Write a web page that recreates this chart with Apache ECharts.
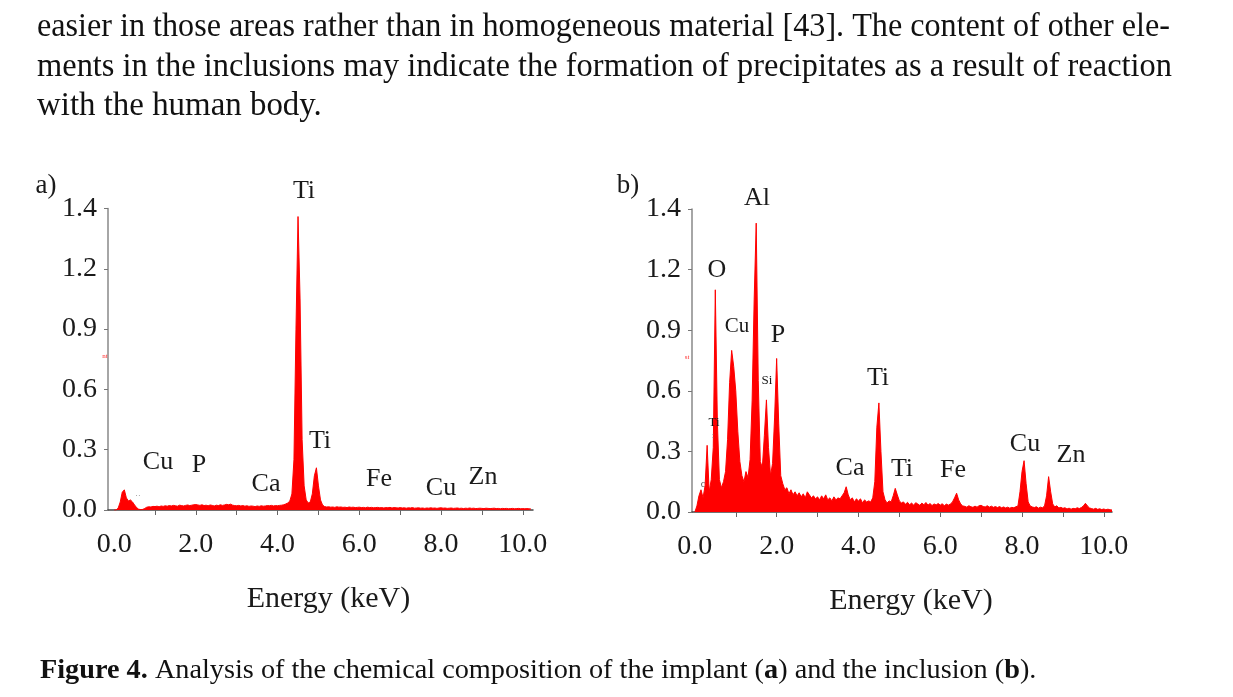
<!DOCTYPE html>
<html><head><meta charset="utf-8">
<script src="https://cdn.jsdelivr.net/npm/echarts@6/dist/echarts.min.js"></script>
<style>html,body{margin:0;padding:0;background:#fff;}#c{width:1233px;height:697px;}</style>
</head><body><div id="c"></div>
<script>
// ---- data ----
const energyStart = 0;      // keV, first channel
const energyStep = 0.05;    // keV per channel
// (a) implant spectrum, counts (arb. units) every 0.05 keV from 0.00 to 10.20
const implantCounts = [
  0, 0, 0.01, 0.04, 0.09, 0.1, 0.06, 0.045, 0.05, 0.04, 0.025, 0.012, 0.004, 0.002, 0.003, 0.008, 0.014, 0.016, 0.015, 0.018,
  0.017, 0.019, 0.016, 0.02, 0.018, 0.021, 0.019, 0.022, 0.02, 0.023, 0.021, 0.019, 0.024, 0.022, 0.02, 0.023, 0.025, 0.022, 0.024, 0.026,
  0.027, 0.025, 0.023, 0.026, 0.022, 0.024, 0.021, 0.025, 0.023, 0.02, 0.024, 0.022, 0.026, 0.023, 0.025, 0.028, 0.026, 0.029, 0.024, 0.022,
  0.021, 0.023, 0.02, 0.022, 0.019, 0.021, 0.018, 0.02, 0.019, 0.017, 0.02, 0.018, 0.021, 0.019, 0.02, 0.022, 0.021, 0.023, 0.02, 0.022,
  0.021, 0.023, 0.024, 0.026, 0.03, 0.035, 0.045, 0.08, 0.25, 0.9, 1.46, 1.05, 0.35, 0.12, 0.05, 0.035, 0.04, 0.08, 0.17, 0.21,
  0.12, 0.05, 0.025, 0.017, 0.015, 0.016, 0.014, 0.015, 0.013, 0.016, 0.014, 0.015, 0.013, 0.014, 0.012, 0.015, 0.013, 0.014, 0.012, 0.013,
  0.014, 0.012, 0.013, 0.011, 0.014, 0.012, 0.013, 0.011, 0.012, 0.013, 0.011, 0.012, 0.01, 0.012, 0.011, 0.013, 0.01, 0.012, 0.011, 0.01,
  0.012, 0.01, 0.011, 0.009, 0.011, 0.01, 0.012, 0.009, 0.01, 0.011, 0.009, 0.01, 0.008, 0.01, 0.009, 0.011, 0.009, 0.01, 0.008, 0.01,
  0.011, 0.009, 0.01, 0.008, 0.009, 0.01, 0.008, 0.009, 0.01, 0.008, 0.009, 0.007, 0.009, 0.008, 0.01, 0.008, 0.009, 0.007, 0.008, 0.009,
  0.008, 0.007, 0.009, 0.008, 0.007, 0.008, 0.009, 0.007, 0.008, 0.006, 0.008, 0.007, 0.008, 0.006, 0.007, 0.008, 0.006, 0.007, 0.008, 0.006,
  0.007, 0.006, 0.007, 0.006, 0.005
];
// (b) inclusion spectrum, counts (arb. units) every 0.05 keV from 0.00 to 10.20
const inclusionCounts = [
  0, 0.03, 0.08, 0.11, 0.07, 0.13, 0.33, 0.1, 0.16, 0.32, 1.1, 0.45, 0.16, 0.12, 0.15, 0.2, 0.36, 0.64, 0.8, 0.72,
  0.6, 0.4, 0.25, 0.18, 0.15, 0.2, 0.17, 0.26, 0.55, 1.05, 1.43, 0.65, 0.25, 0.22, 0.38, 0.555, 0.32, 0.18, 0.24, 0.47,
  0.76, 0.44, 0.18, 0.14, 0.11, 0.12, 0.09, 0.11, 0.085, 0.1, 0.08, 0.095, 0.075, 0.09, 0.07, 0.1, 0.085, 0.07, 0.08, 0.065,
  0.075, 0.06, 0.08, 0.065, 0.085, 0.06, 0.07, 0.055, 0.075, 0.06, 0.07, 0.065, 0.08, 0.095, 0.125, 0.085, 0.06, 0.07, 0.05, 0.065,
  0.055, 0.065, 0.045, 0.06, 0.05, 0.055, 0.05, 0.07, 0.15, 0.42, 0.54, 0.3, 0.1, 0.06, 0.045, 0.055, 0.05, 0.08, 0.117, 0.085,
  0.055, 0.045, 0.05, 0.038, 0.048, 0.036, 0.044, 0.034, 0.046, 0.04, 0.033, 0.044, 0.036, 0.047, 0.034, 0.042, 0.032, 0.04, 0.035, 0.042,
  0.034, 0.041, 0.031, 0.039, 0.034, 0.04, 0.05, 0.07, 0.093, 0.06, 0.04, 0.03, 0.028, 0.024, 0.031, 0.026, 0.023, 0.029, 0.024, 0.031,
  0.033, 0.027, 0.025, 0.031, 0.024, 0.029, 0.023, 0.027, 0.022, 0.027, 0.021, 0.025, 0.02, 0.024, 0.019, 0.023, 0.021, 0.026, 0.03, 0.1,
  0.2, 0.254, 0.14, 0.05, 0.03, 0.025, 0.022, 0.026, 0.019, 0.024, 0.021, 0.03, 0.08, 0.175, 0.1, 0.04, 0.025, 0.031, 0.02, 0.023,
  0.018, 0.021, 0.015, 0.019, 0.014, 0.018, 0.016, 0.021, 0.017, 0.022, 0.03, 0.043, 0.03, 0.02, 0.017, 0.014, 0.018, 0.013, 0.016, 0.012,
  0.015, 0.011, 0.014, 0.011, 0.01
];
const xLabelValues = [0, 2, 4, 6, 8, 10];
const xTickValues = [1, 2, 3, 4, 5, 6, 7, 8, 9, 10];
const yTickLabels = ['0.0', '0.3', '0.6', '0.9', '1.2', '1.4'];
const yStep = 0.3;
const xAxisTitle = 'Energy (keV)';
const panelTags = ['a)', 'b)'];
const paragraphLines = [
  'easier in those areas rather than in homogeneous material [43]. The content of other ele-',
  'ments in the inclusions may indicate the formation of precipitates as a result of reaction',
  'with the human body.'
];
const implantPeakNames = ['Ti', 'Cu', 'P', 'Ca', 'Ti', 'Fe', 'Cu', 'Zn'];
const inclusionPeakNames = ['Al', 'O', 'Cu', 'P', 'Si', 'Ti', 'Ti', 'Ca', 'Ti', 'Fe', 'Cu', 'Zn'];

// ---- helpers ----
const FONT = '"Liberation Serif", "DejaVu Serif", serif';
const cv = document.createElement('canvas').getContext('2d');
function measure(t, size, w) { cv.font = (w || 'normal') + ' ' + size + 'px ' + FONT; return cv.measureText(t).width; }
function toPairs(arr) { return arr.map((v, i) => [+(energyStart + i * energyStep).toFixed(2), v]); }

const bodySize = 100 * 285 / measure(paragraphLines[2], 100);
const capParts = [['Figure 4.', 'bold'], [' Analysis of the chemical composition of the implant (', 'normal'], ['a', 'bold'], [') and the inclusion (', 'normal'], ['b', 'bold'], [').', 'normal']];
const capW100 = capParts.reduce((s, p) => s + measure(p[0], 100, p[1]), 0);
const capSize = 100 * 997 / capW100;

function txt(text, x, y, size, opts) {
  opts = opts || {};
  return {
    type: 'text', x: x, y: y, z: 100, silent: true, scaleX: opts.scaleX || 1,
    style: {
      text: text, fontSize: size, fontFamily: FONT, fontWeight: opts.weight || 'normal',
      fill: opts.color || '#1a1a1a', align: opts.align || 'center', verticalAlign: 'middle',
      textAlign: opts.align || 'center', textVerticalAlign: 'middle', rich: opts.rich
    }
  };
}

const graphics = [];
// paragraph
const bodyTargets = [1133, 1135, null];
const bodyY = [27, 67, 106];
paragraphLines.forEach((l, i) => {
  const sx = bodyTargets[i] ? bodyTargets[i] / measure(l, bodySize) : 1;
  graphics.push(txt(l, 37, bodyY[i], bodySize, { align: 'left', scaleX: sx, color: '#111' }));
});
// caption
graphics.push(txt('{b|Figure 4.} Analysis of the chemical composition of the implant ({b|a}) and the inclusion ({b|b}).', 40, 671, capSize, {
  align: 'left', color: '#111',
  rich: { b: { fontWeight: 'bold', fontSize: capSize, fontFamily: FONT, fill: '#111' } }
}));
// panel tags
graphics.push(txt(panelTags[0], 46, 186, 27));
graphics.push(txt(panelTags[1], 628, 186, 27));
// peak labels (a)
const posA = [[304, 191, 26], [158, 462, 26], [199, 465, 26], [266, 484, 26], [320, 441, 26], [379, 479, 26], [441, 488, 26], [483, 477, 26]];
implantPeakNames.forEach((n, i) => graphics.push(txt(n, posA[i][0], posA[i][1], posA[i][2])));
// peak labels (b)
const posB = [[757, 198, 26], [717, 270, 26], [737, 326, 21], [778, 335, 26], [767, 381, 13], [878, 378, 26], [714, 423, 13], [850, 468, 26], [902, 469, 26], [953, 470, 26], [1025, 444, 26], [1071, 455, 26]];
inclusionPeakNames.forEach((n, i) => graphics.push(txt(n, posB[i][0], posB[i][1], posB[i][2])));
// tiny remnants
graphics.push(txt('nt', 105, 356, 7, { color: '#ff3030' }));
graphics.push(txt('st', 687, 357, 7, { color: '#ff3030' }));
graphics.push(txt('··', 138, 496, 8, { color: '#777' }));
graphics.push(txt('c', 703, 484, 10, { color: '#555' }));
graphics.push(txt(':', 713, 436, 9, { color: '#777' }));

function xAxisCfg(gi, min, max, shift) {
  return {
    gridIndex: gi, type: 'value', min: min, max: max,
    name: xAxisTitle, nameLocation: 'middle', nameGap: 74,
    nameTextStyle: { fontFamily: FONT, fontSize: 30, color: '#1a1a1a', padding: [0, 0, 0, shift] },
    axisLine: { show: true, onZero: false, lineStyle: { color: '#444', width: 1.5 } },
    axisTick: { show: true, customValues: xTickValues, length: 5, lineStyle: { color: '#666' } },
    axisLabel: { customValues: xLabelValues, formatter: v => v.toFixed(1), fontFamily: FONT, fontSize: 28, color: '#1a1a1a', margin: 21 },
    splitLine: { show: false }
  };
}
function yAxisCfg(gi) {
  return {
    gridIndex: gi, type: 'value', min: 0, max: 1.5, interval: yStep,
    axisLine: { show: true, onZero: false, lineStyle: { color: '#888', width: 1.5 } },
    axisTick: { show: true, length: 4, lineStyle: { color: '#777' } },
    axisLabel: { formatter: v => yTickLabels[Math.round(v / yStep)], fontFamily: FONT, fontSize: 28, color: '#1a1a1a', margin: 11 },
    splitLine: { show: false }
  };
}
function seriesCfg(i, arr) {
  return {
    type: 'line', xAxisIndex: i, yAxisIndex: i, data: toPairs(arr), showSymbol: false, silent: true,
    lineStyle: { color: '#ff0000', width: 1 }, areaStyle: { color: '#ff0000', opacity: 1 }, z: 1
  };
}

const chart = echarts.init(document.getElementById('c'), null, { renderer: 'canvas' });
chart.setOption({
  animation: false,
  backgroundColor: '#ffffff',
  grid: [
    { left: 108, top: 208.5, width: 425, height: 301.5 },
    { left: 692, top: 209, width: 420, height: 303 }
  ],
  xAxis: [xAxisCfg(0, -0.15, 10.25, 16), xAxisCfg(1, -0.07, 10.2, 18)],
  yAxis: [yAxisCfg(0), yAxisCfg(1)],
  series: [seriesCfg(0, implantCounts), seriesCfg(1, inclusionCounts)],
  graphic: { elements: graphics }
});
</script></body></html>
